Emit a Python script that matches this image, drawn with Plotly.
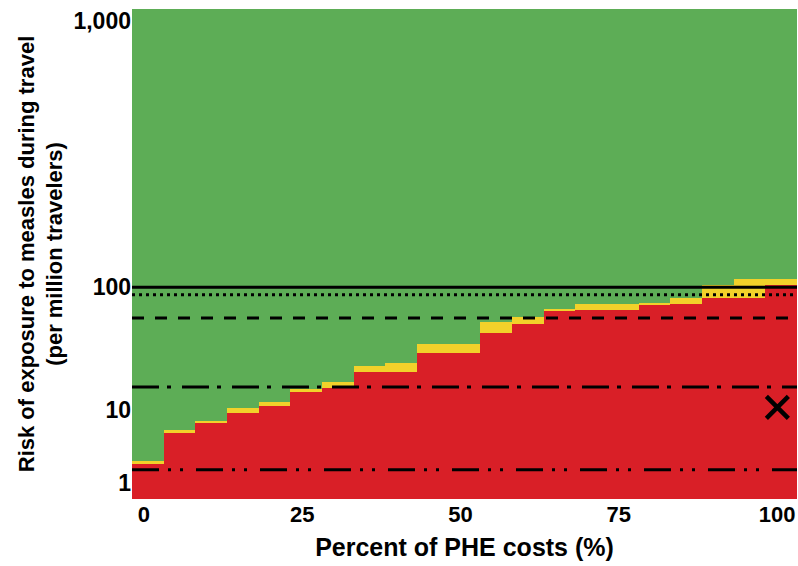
import numpy as np
import plotly.graph_objects as go

# Percent of PHE costs (one column per 5 %)
pct = [0, 5, 10, 15, 20, 25, 30, 35, 40, 45, 50, 55, 60, 65, 70, 75, 80, 85, 90, 95, 100]

# Risk (per million travelers) at the top of the red region and of the yellow band
red_top = [1.78, 4.87, 6.66, 9.17, 10.9, 14.1, 15.1, 20.4, 20.4, 29.2, 29.2,
           42.5, 50.7, 65.0, 65.0, 65.0, 72.8, 72.8, 81.2, 81.2, 101.7]
yellow_top = [1.99, 5.28, 7.10, 10.4, 11.8, 14.8, 16.9, 23.1, 24.2, 34.9, 34.9,
              52.2, 57.3, 66.2, 73.5, 73.7, 73.7, 81.2, 102.4, 107.6, 107.6]

# Reference risk levels drawn as horizontal lines
ref_levels = [100, 86.9, 56.2, 15.5, 1.5]
ref_dashes = ["solid", "3px,4px", "12px,11px", "27px,8px,4px,11px",
              "27px,9px,3px,9px,3px,13px"]

# Single marked scenario
mark_pct = [99.4]
mark_risk = [10.6]

y_tick_vals = [1, 10, 100, 1000]
y_tick_text = ["1", "10", "100", "1,000"]
x_tick_vals = [0, 25, 50, 75, 100]

# The risk axis is stretched decade by decade (uneven spacing per decade)
DECADES = [0, 1, 2, 3]
DECADE_POS = [0, 72, 195, 461]


def risk_to_axis(v):
    lv = np.log10(np.asarray(v, dtype=float))
    lo_slope = DECADE_POS[1] - DECADE_POS[0]
    hi_slope = DECADE_POS[3] - DECADE_POS[2]
    out = np.interp(lv, DECADES, DECADE_POS)
    out = np.where(lv < 0, lv * lo_slope, out)
    out = np.where(lv > 3, DECADE_POS[3] + (lv - 3) * hi_slope, out)
    return out


GREEN = "#5dad56"
RED = "#d91f27"
YELLOW = "#f2d12a"

floor = float(risk_to_axis(0.3))
red_y = risk_to_axis(red_top)
yel_y = risk_to_axis(yellow_top)

fig = go.Figure()

fig.add_trace(go.Bar(
    x=pct, y=red_y - floor, base=floor, width=5,
    marker=dict(color=RED, line=dict(width=0)), hoverinfo="skip", showlegend=False))
fig.add_trace(go.Bar(
    x=pct, y=yel_y - red_y, base=red_y, width=5,
    marker=dict(color=YELLOW, line=dict(width=0)), hoverinfo="skip", showlegend=False))

for lvl, dash in zip(ref_levels, ref_dashes):
    yy = float(risk_to_axis(lvl))
    fig.add_trace(go.Scatter(
        x=[-2.5, 102.5], y=[yy, yy], mode="lines",
        line=dict(color="black", width=3, dash=dash),
        hoverinfo="skip", showlegend=False))

fig.add_trace(go.Scatter(
    x=mark_pct, y=risk_to_axis(mark_risk), mode="markers",
    marker=dict(symbol="x-thin", size=22, color="black",
                line=dict(color="black", width=4.5)),
    showlegend=False))

font_family = "Liberation Sans, Arial, sans-serif"

fig.update_layout(
    width=798, height=566,
    margin=dict(l=132, r=1, t=9, b=67),
    paper_bgcolor="white",
    plot_bgcolor=GREEN,
    barmode="overlay",
    bargap=0,
    font=dict(family=font_family, color="black", size=20, weight="bold"),
    xaxis=dict(
        range=[-2.5, 102.5], tickvals=x_tick_vals, ticks="",
        showgrid=False, zeroline=False, showline=False,
        automargin=False, ticklabelshift=-4,
        tickfont=dict(size=22, weight="bold"),
        title=dict(text="Percent of PHE costs (%)",
                   font=dict(size=25, weight="bold"), standoff=12),
    ),
    yaxis=dict(
        range=[-16.5, 473],
        tickvals=list(risk_to_axis(y_tick_vals)), ticktext=y_tick_text,
        ticks="", showgrid=False, zeroline=False, showline=False,
        automargin=False,
        tickfont=dict(size=23, weight="bold"),
        title=dict(text="Risk of exposure to measles during travel<br>(per million travelers)",
                   font=dict(size=22, weight="bold"), standoff=4),
    ),
)

fig.write_html("out.html")
